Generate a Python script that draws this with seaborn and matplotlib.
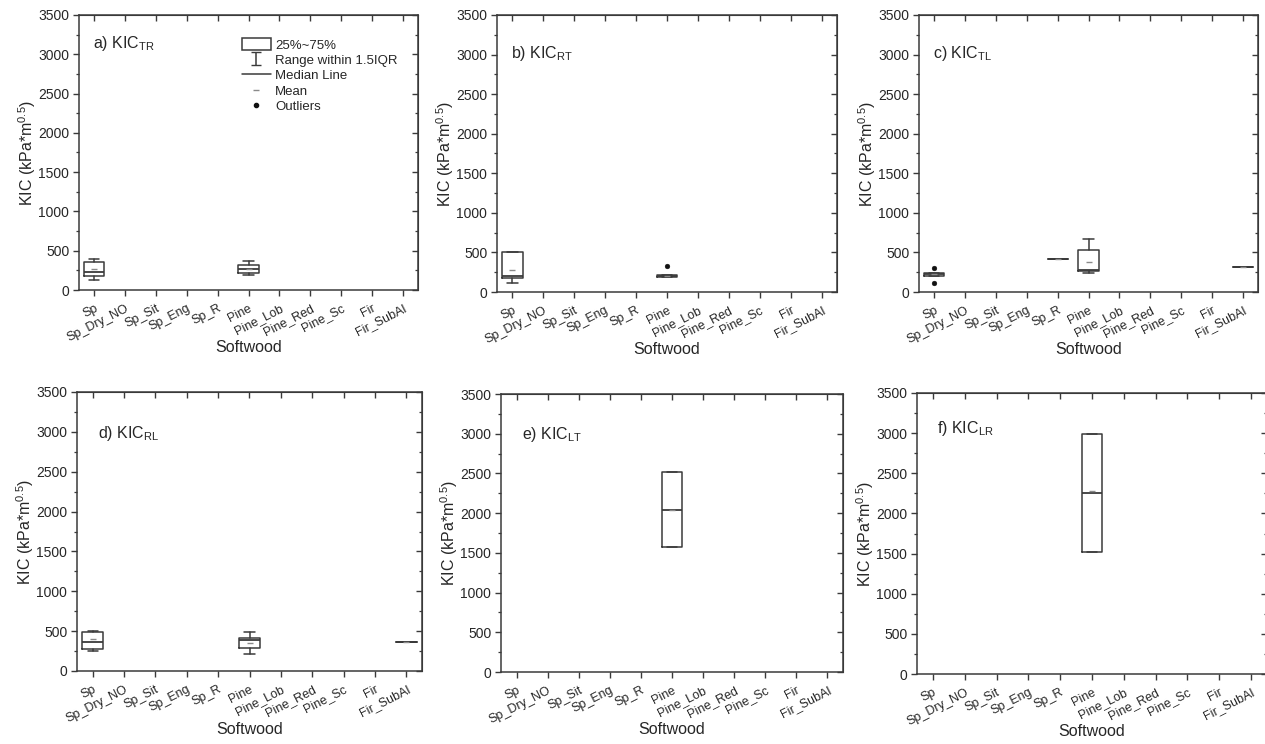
import numpy as np
import pandas as pd
import matplotlib
matplotlib.use("Agg")
import matplotlib.pyplot as plt
import matplotlib.transforms as mtransforms
import seaborn as sns
from matplotlib.patches import Patch
from matplotlib.lines import Line2D
from matplotlib.ticker import MultipleLocator

categories = ["Sp", "Sp_Dry_NO", "Sp_Sit", "Sp_Eng", "Sp_R", "Pine",
              "Pine_Lob", "Pine_Red", "Pine_Sc", "Fir", "Fir_SubAl"]

panel_keys = ["a", "b", "c", "d", "e", "f"]
panel_labels = ["a) KIC$_{\\mathregular{TR}}$", "b) KIC$_{\\mathregular{RT}}$",
                "c) KIC$_{\\mathregular{TL}}$", "d) KIC$_{\\mathregular{RL}}$",
                "e) KIC$_{\\mathregular{LT}}$", "f) KIC$_{\\mathregular{LR}}$"]

# box statistics (kPa*m^0.5)
box_panel = ["a", "a", "b", "b", "c", "c", "c", "c", "d", "d", "d", "e", "f"]
box_group = ["Sp", "Pine", "Sp", "Pine", "Sp", "Sp_R", "Pine", "Fir_SubAl",
             "Sp", "Pine", "Fir_SubAl", "Pine", "Pine"]
box_whislo = [125, 196, 120, 190, 200, 420, 237, 320, 250, 212, 362, 1572, 1515]
box_q1 = [180, 217, 180, 192, 200, 420, 266, 320, 270, 283, 362, 1572, 1515]
box_med = [235, 265, 200, 200, 222, 420, 280, 320, 368, 392, 362, 2041, 2252]
box_q3 = [355, 312, 500, 210, 245, 420, 537, 320, 485, 413, 362, 2516, 2995]
box_whishi = [400, 375, 500, 212, 245, 420, 675, 320, 500, 492, 362, 2516, 2995]
box_mean = [268, 266, 280, 205, 222, 420, 385, 320, 398, 347, 362, 2040, 2277]

outlier_panel = ["b", "c", "c"]
outlier_group = ["Pine", "Sp", "Sp"]
outlier_value = [325, 308, 120]

# axes rectangles in pixels: left, top, right, bottom
W, H = 1265, 744
axes_px = [(79, 15, 418, 290), (497, 15, 837, 292), (919, 15, 1258, 292),
           (77, 392, 422, 671), (501, 394, 843, 672), (917, 393, 1267, 674)]
label_pos = [(0.04, 0.895), (0.04, 0.862), (0.042, 0.86),
             (0.06, 0.85), (0.06, 0.853), (0.057, 0.875)]

LINE = "#3a3a3a"
TEXT = "#262626"

boxes = pd.DataFrame({"panel": box_panel, "group": box_group,
                      "whislo": box_whislo, "q1": box_q1, "med": box_med,
                      "q3": box_q3, "whishi": box_whishi, "mean": box_mean})
boxes["pos"] = boxes["group"].map(categories.index)
outliers = pd.DataFrame({"panel": outlier_panel, "group": outlier_group,
                         "value": outlier_value})
outliers["pos"] = outliers["group"].map(categories.index)

sns.set_style("ticks")
plt.rcParams["font.family"] = ["Liberation Sans", "DejaVu Sans"]
plt.rcParams["text.color"] = TEXT
plt.rcParams["axes.labelcolor"] = TEXT
plt.rcParams["xtick.color"] = LINE
plt.rcParams["ytick.color"] = LINE
plt.rcParams["xtick.labelcolor"] = TEXT
plt.rcParams["ytick.labelcolor"] = TEXT

fig = plt.figure(figsize=(W / 100, H / 100), dpi=100)
shift = mtransforms.ScaledTranslation(4 / 100, 0, fig.dpi_scale_trans)

for i, key in enumerate(panel_keys):
    l, t, r, b = axes_px[i]
    ax = fig.add_axes([l / W, 1 - b / H, (r - l) / W, (b - t) / H])
    sub = boxes[boxes.panel == key]
    stats = [dict(med=row.med, q1=row.q1, q3=row.q3, whislo=row.whislo,
                  whishi=row.whishi, label=row.group) for row in sub.itertuples()]
    lp = dict(color=LINE, linewidth=1.1)
    ax.bxp(stats, positions=list(sub.pos), widths=0.65, capwidths=0.33,
           showfliers=False, manage_ticks=False,
           boxprops=lp, whiskerprops=lp, capprops=lp,
           medianprops=dict(color=LINE, linewidth=1.3))
    sns.scatterplot(data=sub, x="pos", y="mean", marker="_", s=20,
                    color="#8a8a8a", linewidth=1, ax=ax, legend=False, zorder=4)
    osub = outliers[outliers.panel == key]
    if len(osub):
        sns.scatterplot(data=osub, x="pos", y="value", marker="o", s=12,
                        color="#111111", edgecolor="#111111", ax=ax,
                        legend=False, zorder=4)

    ax.set_xlim(-0.5, 10.5)
    ax.set_ylim(0, 3500)
    ax.set_xticks(range(len(categories)))
    ax.set_xticklabels(categories, rotation=27, ha="right",
                       rotation_mode="anchor", fontsize=9)
    for lab in ax.get_xticklabels():
        lab.set_transform(lab.get_transform() + shift)
    ax.yaxis.set_major_locator(MultipleLocator(500))
    ax.yaxis.set_minor_locator(MultipleLocator(250))
    ax.tick_params(axis="both", which="major", direction="out", length=4,
                   width=1, pad=3)
    ax.tick_params(axis="y", which="major", labelsize=10)
    ax.tick_params(axis="y", which="minor", direction="out", length=2.2, width=0.9)
    ax.tick_params(axis="x", which="major", pad=5)
    for sp in ax.spines.values():
        sp.set_color(LINE)
        sp.set_linewidth(1.1)

    top = ax.secondary_xaxis("top")
    top.set_xticks(range(len(categories)))
    top.tick_params(direction="in", length=4, width=1, labeltop=False, color=LINE)
    top.spines["top"].set_color(LINE)
    right = ax.secondary_yaxis("right")
    right.yaxis.set_major_locator(MultipleLocator(500))
    right.yaxis.set_minor_locator(MultipleLocator(250))
    right.tick_params(which="major", direction="in", length=4, width=1,
                      labelright=False, color=LINE)
    right.tick_params(which="minor", direction="in", length=2.2, width=0.9,
                      color=LINE)
    right.spines["right"].set_color(LINE)

    ax.set_xlabel("Softwood", fontsize=11.5)
    ax.set_ylabel("KIC (kPa*m$^{\\mathregular{0.5}}$)", fontsize=11.5)
    ax.xaxis.set_label_coords(0.5, -58 / (b - t))
    ax.xaxis.label.set_verticalalignment("center")
    ax.yaxis.set_label_coords(-52 / (r - l), 0.5)
    ax.yaxis.label.set_verticalalignment("center")

    ax.text(label_pos[i][0], label_pos[i][1], panel_labels[i], transform=ax.transAxes,
            fontsize=11.5, ha="left", va="center")

    if key == "a":
        err = ax.errorbar([np.nan], [np.nan], yerr=[1], fmt="none", capsize=3.5,
                          ecolor=LINE, elinewidth=1.1)
        handles = [Patch(facecolor="white", edgecolor=LINE, linewidth=1.1),
                   err,
                   Line2D([], [], color=LINE, linewidth=1.1),
                   Line2D([], [], color="#8a8a8a", marker="_", markersize=4,
                          linestyle="none"),
                   Line2D([], [], color="#111111", marker="o", markersize=3,
                          linestyle="none")]
        labels = ["25%~75%", "Range within 1.5IQR", "Median Line", "Mean", "Outliers"]
        ax.legend(handles, labels, loc="upper left", bbox_to_anchor=(0.465, 0.935),
                  frameon=False, fontsize=9.5, handlelength=2.2, handleheight=1.0,
                  handletextpad=0.3, labelspacing=0.15, borderaxespad=0)

fig.savefig("out.png", dpi=100)
